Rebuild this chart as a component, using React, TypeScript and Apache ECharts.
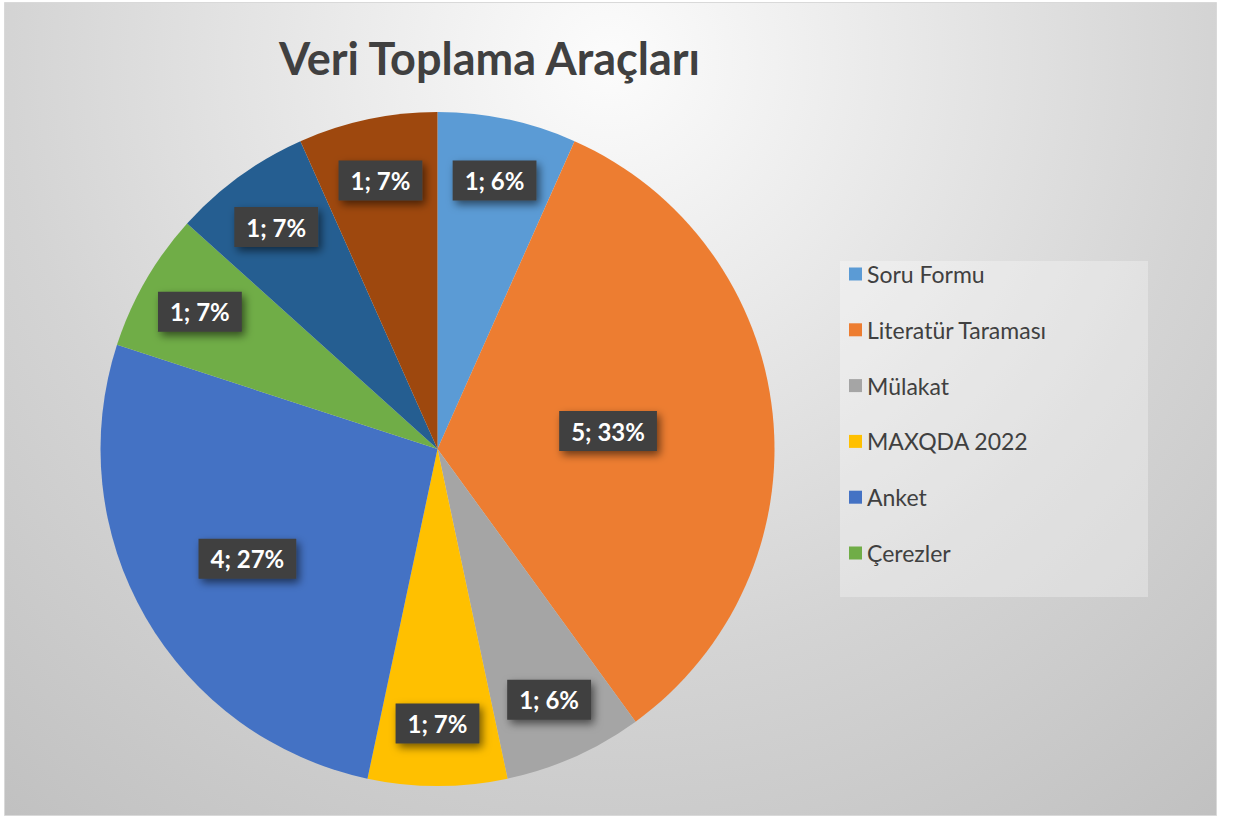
import React, { useEffect, useRef } from "react";
import * as echarts from "echarts";

const TITLE = "Veri Toplama Araçları";
const categories = [
  "Soru Formu",
  "Literatür Taraması",
  "Mülakat",
  "MAXQDA 2022",
  "Anket",
  "Çerezler",
  "Kategori 7",
  "Kategori 8",
];
const values = [1, 5, 1, 1, 4, 1, 1, 1];
const percentLabels = [6, 33, 6, 7, 27, 7, 7, 7];
const legendCount = 6;
const colors = [
  "#5B9BD5",
  "#ED7D31",
  "#A5A5A5",
  "#FFC000",
  "#4472C4",
  "#70AD47",
  "#255E91",
  "#9E480E",
];

const CX = 437.5;
const CY = 449;
const R = 337;

export default function App() {
  const ref = useRef<HTMLDivElement>(null);
  useEffect(() => {
    if (!ref.current) return;
    const chart = echarts.init(ref.current, undefined, { renderer: "svg" });
    const total = values.reduce((a, b) => a + b, 0);
    const option: any = {
      animation: false,
      graphic: [
        {
          type: "rect",
          z: -10,
          silent: true,
          shape: { x: 4.5, y: 2.5, width: 1212, height: 813 },
          style: {
            fill: new echarts.graphic.RadialGradient(610, 60, 1000, [
              { offset: 0, color: "#fcfcfc" },
              { offset: 0.15, color: "#f2f2f2" },
              { offset: 0.6, color: "#d4d4d4" },
              { offset: 1, color: "#bfbfbf" },
            ], true),
            stroke: "#d9d9d9",
            lineWidth: 1,
          },
        },
        {
          type: "rect",
          z: -5,
          silent: true,
          shape: { x: 840, y: 261, width: 308, height: 336 },
          style: { fill: "rgba(255,255,255,0.3)" },
        },
        {
          type: "text",
          z: 10,
          silent: true,
          x: 489.5,
          y: 58,
          style: {
            text: TITLE,
            fill: "#404040",
            font: "bold 45px Lato",
            align: "center",
            verticalAlign: "middle",
          },
        },
      ],
      legend: {
        data: categories.slice(0, legendCount),
        orient: "vertical",
        left: 849,
        top: 262,
        padding: 0,
        itemWidth: 13,
        itemHeight: 13,
        itemGap: 31.8,
        icon: "rect",
        selectedMode: false,
        textStyle: {
          fontFamily: "Lato",
          fontSize: 23,
          lineHeight: 24,
          color: "#404040",
        },
      },
      series: [
        {
          type: "pie",
          center: [CX, CY],
          radius: R,
          startAngle: 90,
          clockwise: true,
          silent: true,
          avoidLabelOverlap: false,
          itemStyle: { borderWidth: 0 },
          emphasis: { disabled: true },
          labelLine: { show: false },
          label: {
            show: true,
            position: "inside",
            formatter: (p: any) => `${p.value}; ${percentLabels[p.dataIndex]}%`,
            color: "#ffffff",
            fontFamily: "Lato",
            fontWeight: "bold",
            fontSize: 24,
            lineHeight: 26,
            backgroundColor: "#3f3f3f",
            padding: [7, 12],
            shadowColor: "rgba(0,0,0,0.55)",
            shadowBlur: 8,
            shadowOffsetX: 3,
            shadowOffsetY: 4,
          },
          labelLayout: (params: any) => {
            const share = values[params.dataIndex] / total;
            const f = share > 0.3 ? 0.5 : share > 0.2 ? 0.64 : 0.8;
            const lr = params.labelRect;
            const lx = lr.x + lr.width / 2;
            const ly = lr.y + lr.height / 2;
            const k = f / 0.5;
            return {
              x: CX + (lx - CX) * k,
              y: CY + (ly - CY) * k,
              align: "center",
              verticalAlign: "middle",
            };
          },
          data: categories.map((name, i) => ({
            name,
            value: values[i],
            itemStyle: { color: colors[i] },
          })),
        },
      ],
    };
    chart.setOption(option);
    return () => chart.dispose();
  }, []);
  return (
    <div
      ref={ref}
      style={{ position: "absolute", left: 0, top: 0, width: 1234, height: 818 }}
    />
  );
}
